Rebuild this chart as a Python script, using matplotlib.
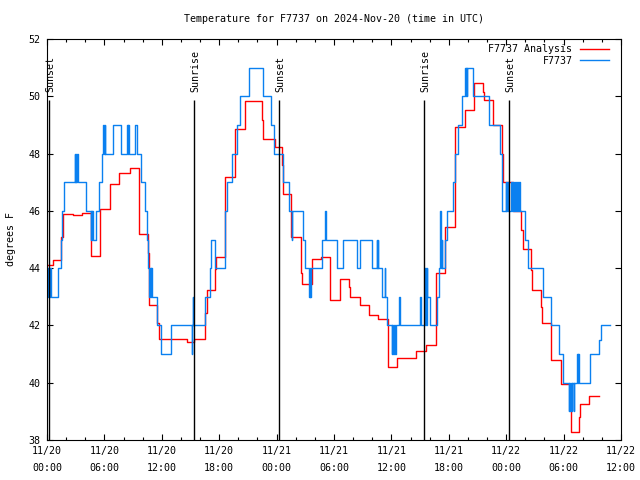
import matplotlib
matplotlib.use("Agg")
import matplotlib.pyplot as plt

# hours since 2024-11-20 00:00 UTC
red_t = [0.0, 0.59, 1.43, 1.64, 2.68, 3.62, 4.56, 4.63, 5.58, 6.55, 7.56, 8.68,
         9.58, 9.65, 10.59, 10.70, 11.53, 11.68, 14.60, 15.37, 16.55, 16.69, 17.59,
         17.66, 18.57, 18.64, 19.62, 20.66, 22.47, 22.61, 23.87, 24.60, 24.68, 25.55,
         26.55, 26.65, 27.65, 28.60, 29.58, 30.60, 31.60, 31.67, 32.70, 33.62, 34.60,
         35.60, 36.62, 38.57, 39.62, 40.66, 41.64, 42.61, 42.68, 43.66, 44.63, 45.54,
         45.68, 46.65, 47.60, 47.67, 48.68, 48.74, 49.58, 49.72, 50.62, 50.70, 51.67,
         51.74, 52.72, 53.69, 54.74, 55.64, 55.71, 56.69, 57.67]
red_v = [44.10, 44.28, 45.08, 45.88, 45.84, 45.92, 45.19, 44.41, 46.08, 46.94, 47.33, 47.50,
         46.33, 45.19, 44.54, 42.70, 42.07, 41.51, 41.42, 41.51, 42.44, 43.24, 43.96,
         44.40, 45.80, 47.19, 48.87, 49.85, 49.17, 48.50, 48.24, 47.60, 46.60, 45.08,
         43.84, 43.45, 44.31, 44.38, 42.89, 43.61, 43.33, 43.00, 42.70, 42.36, 42.21,
         40.55, 40.85, 41.12, 41.31, 43.84, 45.45, 47.19, 48.94, 49.52, 50.45, 50.16,
         49.87, 49.00, 48.00, 47.02, 46.49, 45.98, 45.33, 44.66, 43.93, 43.24, 42.65,
         42.07, 40.79, 39.95, 38.29, 38.79, 39.26, 39.53, 39.53]

blue_t = [0.0, 0.10, 0.30, 0.42, 1.18, 1.43, 1.57, 1.78, 2.89, 2.93, 3.03, 3.07, 3.18, 3.23,
          4.08, 4.56, 4.62, 4.68, 4.75, 4.80, 5.12, 5.47, 5.75, 5.89, 5.95, 6.02, 6.10,
          6.87, 7.70, 8.40, 8.44, 8.50, 8.54, 9.17, 9.44, 9.79, 10.28, 10.42, 10.55,
          10.70, 10.75, 10.83, 10.88, 11.00, 11.46, 11.88, 12.93, 15.12, 15.17, 15.22,
          15.27, 16.55, 17.05, 17.11, 17.59, 18.57, 18.65, 18.78, 19.35, 19.85, 20.15,
          21.15, 22.55, 23.45, 23.73, 24.63, 25.26, 25.60, 25.66, 26.79, 27.00, 27.42,
          27.46, 27.52, 27.56, 28.74, 29.09, 29.16, 30.35, 30.97, 32.37, 32.72, 33.97,
          34.46, 34.51, 34.60, 34.65, 35.02, 35.30, 35.35, 35.50, 36.06, 36.11, 36.20,
          36.25, 36.40, 36.45, 36.80, 36.86, 39.00, 39.13, 39.55, 39.60, 39.70, 39.75,
          39.83, 40.03, 40.73, 40.94, 41.08, 41.13, 41.20, 41.29, 41.34, 41.57, 41.84,
          42.47, 42.61, 42.96, 43.38, 43.66, 43.78, 43.82, 43.90, 43.94, 44.56, 46.17,
          47.40, 47.56, 47.98, 48.02, 48.12, 48.16, 48.55, 48.59, 48.75, 48.79, 48.95,
          48.99, 49.15, 49.19, 49.36, 49.40, 49.93, 50.28, 51.81, 52.65, 53.49, 53.97,
          54.53, 54.57, 54.70, 54.74, 54.87, 54.91, 55.05, 55.09, 55.43, 55.48, 55.55,
          55.60, 56.76, 57.73, 57.88, 58.85]
blue_v = [44, 43, 44, 43, 44, 45, 46, 47, 48, 47, 48, 47, 48, 47,
          46, 45, 46, 45, 46, 45, 46, 47, 48, 49, 48, 49, 48,
          49, 48, 49, 48, 49, 48, 49, 48, 47, 46, 45, 44,
          43, 44, 43, 44, 43, 42, 41, 42, 41, 42, 43,
          42, 43, 44, 45, 44, 45, 46, 47, 48, 49, 50,
          51, 50, 49, 48, 47, 46, 45, 46, 45, 44, 43,
          44, 43, 44, 45, 46, 45, 44, 45, 44, 45, 44,
          45, 44, 45, 44, 43, 44, 43, 42, 41, 42, 41,
          42, 41, 42, 43, 42, 43, 42, 44, 42, 44, 43,
          43, 42, 43, 44, 45, 46, 44, 45, 44, 45, 46,
          47, 48, 49, 50, 51, 50, 51, 50, 51, 50, 49,
          48, 46, 47, 46, 47, 46, 47, 46, 47, 46, 47,
          46, 47, 46, 47, 46, 45, 44, 43, 42, 41, 40,
          39, 40, 39, 40, 39, 40, 39, 40, 41, 40, 41,
          40, 41, 41.5, 42, 42]

event_t = [0.24, 15.40, 24.28, 39.44, 48.32]
event_lbl = ["Sunset", "Sunrise", "Sunset", "Sunrise", "Sunset"]

xticks = [0, 6, 12, 18, 24, 30, 36, 42, 48, 54, 60]
xlabels = ["11/20\n00:00", "11/20\n06:00", "11/20\n12:00", "11/20\n18:00",
           "11/21\n00:00", "11/21\n06:00", "11/21\n12:00", "11/21\n18:00",
           "11/22\n00:00", "11/22\n06:00", "11/22\n12:00"]

plt.rcParams['font.family'] = ['DejaVu Sans Mono', 'DejaVu Sans']
plt.rcParams['font.size'] = 7.2

fig = plt.figure(figsize=(6.4, 4.8), dpi=100)
ax = fig.add_axes([47 / 640, 40 / 480, 574 / 640, 401 / 480])

ax.step(red_t, red_v, where='post', color='#ff0000', lw=1.0, label='F7737 Analysis')
ax.step(blue_t, blue_v, where='post', color='#0a80f0', lw=1.0, label='F7737')

for t, lbl in zip(event_t, event_lbl):
    ax.vlines(t, 38, 49.87, color='black', lw=1.0)
    ax.text(t + 0.12, 50.15, lbl, rotation=90, ha='center', va='bottom')

ax.set_xlim(0, 60)
ax.set_ylim(38, 52)
ax.set_xticks(xticks)
ax.set_xticklabels(xlabels, linespacing=1.8)
ax.set_xticks(range(0, 61, 2), minor=True)
ax.set_yticks(range(38, 53, 2))
ax.tick_params(which='both', direction='in', top=True, right=True, width=0.8)
ax.tick_params(which='major', length=4.5, pad=4.5)
ax.tick_params(which='minor', length=2.5)
for s in ax.spines.values():
    s.set_linewidth(0.8)

ax.set_ylabel('degrees F', labelpad=9)
ax.set_title('Temperature for F7737 on 2024-Nov-20 (time in UTC)', fontsize=7.2, pad=12)
ax.legend(loc='upper right', bbox_to_anchor=(1 - 7 / 574, 1), frameon=False,
          markerfirst=False, handlelength=2.9, handletextpad=0.7, labelspacing=0.15,
          borderaxespad=0.35, borderpad=0.2)

fig.savefig('out.png', dpi=100)
